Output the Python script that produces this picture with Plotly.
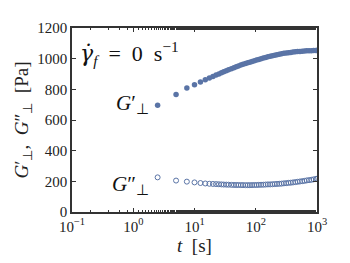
import math
import plotly.graph_objects as go

t = [2.5, 5, 7.5, 10, 12.5, 15, 17.5, 20, 22.5, 25, 27.5,
     30, 33, 36, 40, 44, 48, 52, 57, 62, 68, 74, 80, 87, 95, 103, 112, 122, 133, 145, 158, 172, 187,
     204, 222, 242, 264, 288, 314, 342, 373, 406, 443, 483, 526, 573, 625, 681, 742, 809, 882, 961, 1000]
g1 = [697, 767, 808, 830, 848, 862, 874, 884, 893, 900, 908,
      915, 921, 927, 935, 941, 947, 952, 958, 963, 968, 973, 977, 981, 987, 991, 995, 999, 1004, 1008, 1012, 1016, 1019,
      1023, 1026, 1029, 1032, 1035, 1037, 1039, 1041, 1043, 1045, 1046, 1047, 1049, 1050, 1051, 1052, 1052, 1053, 1054, 1054]
g2 = [226, 205, 198, 193, 189, 186, 184, 183, 182, 181, 180,
      179, 178.5, 178, 177, 176.5, 176, 176, 175.5, 175.5, 175, 175, 175, 175.5, 176, 176, 177, 177.5, 178, 179, 180, 180, 181,
      182, 183, 184, 185, 187, 188, 190, 191, 193, 195, 197, 199, 201, 203, 206, 208, 210, 213, 215, 217]

xtick_vals = [0.1, 1, 10, 100, 1000]
xtick_text = ["10<sup>−1</sup>", "10<sup>0</sup>", "10<sup>1</sup>", "10<sup>2</sup>", "10<sup>3</sup>"]
ytick_vals = [0, 200, 400, 600, 800, 1000, 1200]

col = "#5a74a6"
font = "Liberation Serif"

fig = go.Figure()
fig.add_trace(go.Scatter(x=t, y=g1, mode="markers",
                         marker=dict(size=5.5, color=col, line=dict(width=0))))
fig.add_trace(go.Scatter(x=t, y=g2, mode="markers",
                         marker=dict(size=5, symbol="circle-open", color=col, line=dict(width=1))))

fig.update_layout(
    width=350, height=263,
    margin=dict(l=58, r=41, t=20, b=59),
    paper_bgcolor="white", plot_bgcolor="white",
    showlegend=False,
    font=dict(family=font, size=15, color="#222"),
)
fig.update_xaxes(type="log", range=[-1, 3], tickvals=xtick_vals, ticktext=xtick_text,
                 ticks="inside", ticklen=4, tickcolor="#333", showgrid=False, zeroline=False,
                 showline=True, linecolor="#333", linewidth=1.5, mirror="ticks",
                 minor=dict(ticks="inside", ticklen=2, tickcolor="#333", showgrid=False),
                 title=dict(text="<i>t</i>  [s]", font=dict(size=19, family=font), standoff=2),
                 tickfont=dict(size=15, family=font))
fig.update_yaxes(range=[0, 1200], tickvals=ytick_vals,
                 ticks="inside", ticklen=4, tickcolor="#333", showgrid=False, zeroline=False,
                 showline=True, linecolor="#333", linewidth=1.5, mirror="ticks",
                 title=dict(text="<i>G</i>′<sub>⊥</sub>,  <i>G</i>″<sub>⊥</sub>  [Pa]",
                            font=dict(size=19, family=font), standoff=4),
                 tickfont=dict(size=15, family=font))

fig.add_annotation(x=0.025, y=0.86, xref="paper", yref="paper", xanchor="left", yanchor="middle",
                   text='<span style="font-family:DejaVu Serif"><i>γ̇</i></span><sub><i>f</i></sub>  =  0  s<sup>−1</sup>',
                   showarrow=False, font=dict(size=22, family=font, color="#111"))
lx = math.log10(1.95)
fig.add_annotation(x=lx, y=705, xref="x", yref="y", xanchor="right", yanchor="middle",
                   text="<i>G</i>′<sub>⊥</sub>", showarrow=False,
                   font=dict(size=21, family=font, color="#111"))
fig.add_annotation(x=lx, y=175, xref="x", yref="y", xanchor="right", yanchor="middle",
                   text="<i>G</i>″<sub>⊥</sub>", showarrow=False,
                   font=dict(size=21, family=font, color="#111"))

fig.write_html("out.html")
